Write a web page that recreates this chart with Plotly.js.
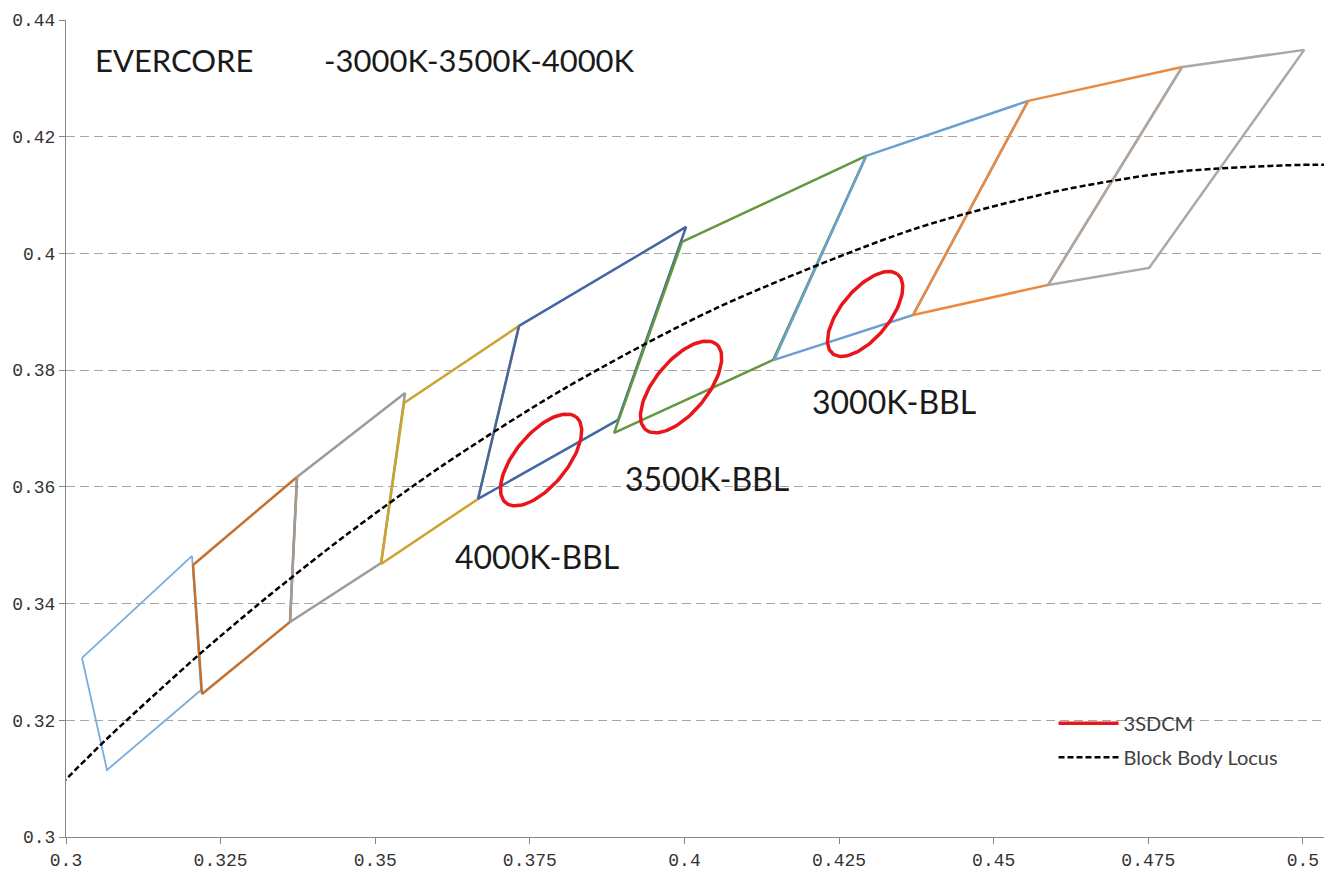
<!DOCTYPE html>
<html>
<head>
<meta charset="utf-8">
<script src="https://cdn.plot.ly/plotly-3.0.1.min.js"></script>
<style>
html,body{margin:0;padding:0;background:#fff;}
#chart{width:1324px;height:872px;}
</style>
</head>
<body>
<div id="chart"></div>
<script>
// ---- Data (CIE 1931 x,y) ----
// Bin quadrilaterals (corner order: top-left, top-right, bottom-right, bottom-left)
const bin1X = [0.30259, 0.32038, 0.32183, 0.30663];
const bin1Y = [0.33068, 0.34816, 0.32519, 0.31148];
const bin2X = [0.32054, 0.33735, 0.33622, 0.32199];
const bin2Y = [0.34662, 0.36170, 0.33685, 0.32451];
const bin3X = [0.33735, 0.35482, 0.35094, 0.33622];
const bin3Y = [0.36170, 0.37609, 0.34696, 0.33685];
const bin4X = [0.35466, 0.37325, 0.36662, 0.35094];
const bin4Y = [0.37438, 0.38758, 0.35793, 0.34679];
const bin5X = [0.37325, 0.40026, 0.38926, 0.36662];
const bin5Y = [0.38758, 0.40454, 0.37147, 0.35793];
const bin6X = [0.39961, 0.42937, 0.41433, 0.38862];
const bin6Y = [0.40197, 0.41671, 0.38175, 0.36924];
const bin7X = [0.42937, 0.45556, 0.43697, 0.41449];
const bin7Y = [0.41671, 0.42614, 0.38946, 0.38175];
const bin8X = [0.45556, 0.48047, 0.45880, 0.43697];
const bin8Y = [0.42614, 0.43196, 0.39460, 0.38946];
const bin9X = [0.48047, 0.50020, 0.47513, 0.45880];
const bin9Y = [0.43196, 0.43488, 0.39752, 0.39460];

// 3-step MacAdam (3SDCM) ellipses
const ellipseCenterX = [0.37681, 0.39945, 0.42921];
const ellipseCenterY = [0.36461, 0.37712, 0.38963];
const ellipseSemiMajor = [0.0093, 0.0093, 0.0086];
const ellipseSemiMinor = [0.0043, 0.0043, 0.0040];
const ellipseAngleDeg = [53, 53, 53];

// Black body (Planckian) locus
const bblX = [0.2952, 0.3064, 0.3135, 0.3221, 0.3324, 0.3451, 0.3608, 0.3805, 0.4053, 0.4369, 0.4599, 0.4770, 0.4857, 0.5018, 0.5141];
const bblY = [0.3048, 0.3166, 0.3236, 0.3318, 0.3410, 0.3516, 0.3636, 0.3768, 0.3907, 0.4041, 0.4106, 0.4137, 0.4145, 0.4152, 0.4147];

// Text
const titleLeft = "EVERCORE";
const titleRight = "-3000K-3500K-4000K";
const labelTexts = ["4000K-BBL", "3500K-BBL", "3000K-BBL"];
const labelX = [0.36258, 0.39007, 0.42031];
const labelY = [0.34799, 0.36135, 0.37455];
const legendNames = ["3SDCM", "Block Body Locus"];

// ---- Styles ----
const binsX = [bin1X, bin2X, bin3X, bin4X, bin5X, bin6X, bin7X, bin8X, bin9X];
const binsY = [bin1Y, bin2Y, bin3Y, bin4Y, bin5Y, bin6Y, bin7Y, bin8Y, bin9Y];
const binColors = ["#7AAEDD", "#C4702E", "#9C9C9C", "#CCA42B", "#4366A5", "#64973F", "#6A9FCF", "#EB8A3E", "#A9A9A9"];
const binWidths = [1.8, 2.5, 2.5, 2.5, 2.5, 2.5, 2.5, 2.5, 2.5];

const traces = [];
binsX.forEach((bx, i) => {
  traces.push({
    x: bx.concat([bx[0]]),
    y: binsY[i].concat([binsY[i][0]]),
    mode: 'lines', type: 'scatter',
    line: {color: binColors[i], width: binWidths[i]},
    showlegend: false, hoverinfo: 'skip'
  });
});

ellipseCenterX.forEach((cx, i) => {
  const cy = ellipseCenterY[i], a = ellipseSemiMajor[i], b = ellipseSemiMinor[i];
  const th = ellipseAngleDeg[i] * Math.PI / 180;
  const ex = [], ey = [];
  for (let k = 0; k <= 120; k++) {
    const t = 2 * Math.PI * k / 120;
    ex.push(cx + a * Math.cos(t) * Math.cos(th) - b * Math.sin(t) * Math.sin(th));
    ey.push(cy + a * Math.cos(t) * Math.sin(th) + b * Math.sin(t) * Math.cos(th));
  }
  traces.push({
    x: ex, y: ey, mode: 'lines', type: 'scatter',
    line: {color: '#E8161B', width: 3.5},
    name: legendNames[0], legendgroup: 'g1',
    showlegend: i === 0, hoverinfo: 'skip'
  });
});

traces.push({
  x: bblX, y: bblY, mode: 'lines', type: 'scatter',
  line: {color: '#000000', width: 2.5, dash: '6px,3px', shape: 'spline', smoothing: 0.8},
  name: legendNames[1], legendgroup: 'g2', hoverinfo: 'skip'
});

const annFont = {family: 'Lato, "Open Sans", sans-serif', size: 32, color: '#1a1a1a'};
const annotations = [
  {x: 0.30437, y: 0.43317, xref: 'x', yref: 'y', text: titleLeft, showarrow: false, xanchor: 'left', yanchor: 'middle', font: {family: annFont.family, size: 31, color: annFont.color}},
  {x: 0.34140, y: 0.43317, xref: 'x', yref: 'y', text: titleRight, showarrow: false, xanchor: 'left', yanchor: 'middle', font: {family: annFont.family, size: 31, color: annFont.color}}
];
labelTexts.forEach((t, i) => {
  annotations.push({x: labelX[i], y: labelY[i], xref: 'x', yref: 'y', text: t, showarrow: false,
    xanchor: 'left', yanchor: 'middle', font: annFont});
});

const tickFont = {family: '"Liberation Mono", "DejaVu Sans Mono", monospace', size: 18, color: '#333333'};

const layout = {
  width: 1324, height: 872,
  margin: {l: 66, r: 0, t: 20, b: 35, pad: 0},
  paper_bgcolor: '#ffffff', plot_bgcolor: '#ffffff',
  showlegend: true,
  legend: {x: 0.785, y: 0.163, xanchor: 'left', yanchor: 'top', bgcolor: 'rgba(0,0,0,0)',
    font: {family: 'Lato, "Open Sans", sans-serif', size: 20, color: '#404040'},
    tracegroupgap: 5, itemwidth: 60, traceorder: 'grouped'},
  xaxis: {range: [0.3, 0.5034], dtick: 0.025, tick0: 0.3, showgrid: false, zeroline: false,
    showline: true, linecolor: '#868686', linewidth: 1, ticks: 'outside', ticklen: 6, tickcolor: '#868686',
    tickfont: tickFont, fixedrange: true},
  yaxis: {range: [0.3, 0.44], dtick: 0.02, tick0: 0.3, showgrid: true, gridcolor: '#A6A6A6', gridwidth: 1,
    griddash: '9px,5px', zeroline: false,
    showline: true, linecolor: '#868686', linewidth: 1, ticks: 'outside', ticklen: 6, tickcolor: '#868686',
    tickfont: tickFont, fixedrange: true},
  annotations: annotations
};

Plotly.newPlot('chart', traces, layout, {displayModeBar: false, staticPlot: true});
</script>
</body>
</html>
